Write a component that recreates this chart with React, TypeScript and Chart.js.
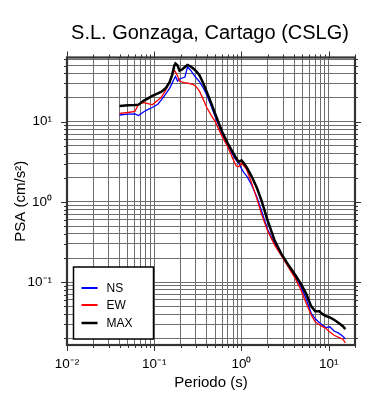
import { useEffect, useRef } from 'react';
import { Chart, registerables } from 'chart.js';

Chart.register(...registerables);

const TITLE = 'S.L. Gonzaga, Cartago (CSLG)';
const X_TITLE = 'Periodo (s)';
const Y_TITLE = 'PSA (cm/s²)';

const PERIODS = [
  0.04, 0.05, 0.06, 0.066, 0.076, 0.085, 0.095, 0.11, 0.12, 0.135,
  0.15, 0.16, 0.17, 0.175, 0.185, 0.195, 0.21, 0.225, 0.24, 0.26,
  0.28, 0.3, 0.33, 0.36, 0.4, 0.45, 0.5, 0.6, 0.7, 0.8,
  0.87, 0.93, 1.0, 1.07, 1.15, 1.3, 1.5, 1.7, 2.0, 2.4,
  2.9, 3.5, 4.1, 4.8, 5.5, 6.3, 7.0, 7.8, 8.5, 9.3,
  10.3, 11.5, 13, 14.5, 15.5,
];

const NS = [
  12.1, 12.4, 12.5, 11.9, 13.3, 14.2, 15, 16.5, 18.5, 22,
  26, 30, 34.5, 36.5, 32, 34, 35, 36, 48, 44,
  39, 35.5, 31.5, 27, 21.5, 15.5, 11.5, 7, 5.1, 3.8,
  3.3, 3.05, 2.6, 2.3, 2.1, 1.65, 1.15, 0.77, 0.45, 0.3,
  0.215, 0.155, 0.118, 0.088, 0.062, 0.041, 0.035, 0.0315, 0.029, 0.0272,
  0.0278, 0.0246, 0.0232, 0.0212, 0.0196,
];

const EW = [
  12.7, 13.0, 13.4, 16.5, 17.3, 16.8, 16.2, 18.5, 20, 24.5,
  31, 37, 43, 42, 37, 32, 31, 30.5, 30.5, 29.5,
  29, 27.5, 24, 19.5, 15, 12, 10, 6.5, 4.8, 3.4,
  2.8, 2.75, 3.05, 2.8, 2.5, 1.75, 1.1, 0.7, 0.43, 0.29,
  0.21, 0.15, 0.113, 0.08, 0.055, 0.039, 0.032, 0.0295, 0.028, 0.0265,
  0.024, 0.0218, 0.0205, 0.0195, 0.0175,
];

const MAX = [
  15.7, 16.0, 16.1, 16.3, 18.3, 19.5, 21, 22.5, 23.5, 26,
  31, 38, 50, 53, 50, 43, 45, 48, 51, 49,
  46, 43, 38, 31, 23.5, 17, 12.5, 7.5, 5.3, 4.1,
  3.5, 3.15, 3.3, 3.0, 2.7, 2.1, 1.5, 1.03, 0.58, 0.33,
  0.22, 0.16, 0.125, 0.095, 0.072, 0.05, 0.0435, 0.0435, 0.04, 0.0378,
  0.0365, 0.034, 0.031, 0.0283, 0.026,
];

const SERIES_LABELS = ['NS', 'EW', 'MAX'];
const SERIES_COLORS = ['#0000ff', '#ff0000', '#000000'];

const X_DECADES = [0.01, 0.1, 1, 10];
const X_TICK_LABELS = ['10⁻²', '10⁻¹', '10⁰', '10¹'];
const Y_DECADES = [0.01, 0.1, 1, 10];
const Y_TICK_LABELS = ['10⁻²', '10⁻¹', '10⁰', '10¹'];

const X_MIN = 0.01;
const X_MAX = 20;
const Y_MIN = 0.0165;
const Y_MAX = 63;

const FONT = '"Liberation Sans", Arial, Helvetica, sans-serif';

function logTicks(decades: number[], min: number, max: number) {
  const out: number[] = [];
  decades.forEach((d) => {
    for (let m = 1; m <= 9; m++) {
      const v = parseFloat((d * m).toPrecision(6));
      if (v >= min * 0.9999 && v <= max * 1.0001) out.push(v);
    }
  });
  return out;
}

function labelFor(value: number, decades: number[], labels: string[]) {
  for (let i = 0; i < decades.length; i++) {
    if (Math.abs(value / decades[i] - 1) < 1e-6) return labels[i];
  }
  return '';
}

function isDecade(v: number) {
  const l = Math.log10(v);
  return Math.abs(l - Math.round(l)) < 1e-6;
}

const decorPlugin = {
  id: 'decor',
  beforeDraw(chart: any) {
    const { ctx, width, height } = chart;
    ctx.save();
    ctx.fillStyle = '#ffffff';
    ctx.fillRect(0, 0, width, height);
    ctx.restore();
  },
  afterDraw(chart: any) {
    const { ctx, chartArea: a, scales } = chart;
    const xs = scales.x;
    const ys = scales.y;
    ctx.save();

    // outward tick marks on all four sides
    ctx.strokeStyle = '#333333';
    ctx.lineWidth = 1;
    ctx.beginPath();
    xs.ticks.forEach((t: any) => {
      const px = Math.round(xs.getPixelForValue(t.value)) + 0.5;
      const len = isDecade(t.value) ? 6 : 3;
      ctx.moveTo(px, a.bottom);
      ctx.lineTo(px, a.bottom + len);
      ctx.moveTo(px, a.top);
      ctx.lineTo(px, a.top - len);
    });
    ys.ticks.forEach((t: any) => {
      const py = Math.round(ys.getPixelForValue(t.value)) + 0.5;
      const len = isDecade(t.value) ? 6 : 3;
      ctx.moveTo(a.left, py);
      ctx.lineTo(a.left - len, py);
      ctx.moveTo(a.right, py);
      ctx.lineTo(a.right + len, py);
    });
    ctx.stroke();

    // frame
    ctx.strokeStyle = '#333333';
    ctx.lineWidth = 2.2;
    ctx.strokeRect(a.left, a.top, a.right - a.left, a.bottom - a.top);

    // legend box
    const bx = a.left + 6.5;
    const bw = 80;
    const bh = 72;
    const by = a.bottom - 6 - bh;
    ctx.fillStyle = '#ffffff';
    ctx.fillRect(bx, by, bw, bh);
    ctx.strokeStyle = '#000000';
    ctx.lineWidth = 1.5;
    ctx.strokeRect(bx, by, bw, bh);
    const rows = [by + 21, by + 38, by + 56];
    ctx.font = `12px ${FONT}`;
    ctx.textBaseline = 'middle';
    ctx.textAlign = 'left';
    chart.data.datasets.forEach((ds: any, i: number) => {
      const y = rows[i];
      ctx.strokeStyle = ds.borderColor;
      ctx.lineWidth = i === 2 ? 2.5 : 2;
      ctx.beginPath();
      ctx.moveTo(bx + 8, y);
      ctx.lineTo(bx + 24, y);
      ctx.stroke();
      ctx.fillStyle = '#000000';
      ctx.fillText(ds.label, bx + 33, y + 0.5);
    });

    // titles
    const cx = (a.left + a.right) / 2;
    ctx.fillStyle = '#000000';
    ctx.textAlign = 'center';
    ctx.textBaseline = 'alphabetic';
    ctx.font = `20px ${FONT}`;
    ctx.fillText(TITLE, cx - 1, 38.5);
    ctx.font = `15px ${FONT}`;
    ctx.fillText(X_TITLE, cx, 387);
    ctx.save();
    ctx.translate(25, (a.top + a.bottom) / 2);
    ctx.rotate(-Math.PI / 2);
    ctx.fillText(Y_TITLE, 0, 0);
    ctx.restore();

    ctx.restore();
  },
};

export default function App() {
  const ref = useRef<HTMLCanvasElement | null>(null);

  useEffect(() => {
    document.body.style.margin = '0';
    const canvas = ref.current;
    if (!canvas) return;
    const xTicks = logTicks(X_DECADES, X_MIN, X_MAX);
    const yTicks = logTicks(Y_DECADES, Y_MIN, Y_MAX);
    const series = [NS, EW, MAX];
    const chart = new Chart(canvas, {
      type: 'line',
      data: {
        datasets: series.map((vals, i) => ({
          label: SERIES_LABELS[i],
          data: PERIODS.map((p, j) => ({ x: p, y: vals[j] })),
          borderColor: SERIES_COLORS[i],
          backgroundColor: SERIES_COLORS[i],
          borderWidth: i === 2 ? 2.5 : 1.3,
          pointRadius: 0,
          tension: 0,
          fill: false,
          order: i === 2 ? 0 : i === 1 ? 1 : 2,
        })),
      },
      options: {
        animation: false,
        responsive: false,
        maintainAspectRatio: false,
        events: [],
        layout: { padding: { top: 57.5, right: 35, bottom: 0, left: 0 } },
        plugins: {
          legend: { display: false },
          title: { display: false },
          tooltip: { enabled: false },
        },
        scales: {
          x: {
            type: 'logarithmic',
            min: X_MIN,
            max: X_MAX,
            afterBuildTicks: (scale: any) => {
              scale.ticks = xTicks.map((v) => ({ value: v }));
            },
            afterFit: (scale: any) => {
              scale.height = 55;
            },
            grid: { color: '#6e6e6e', lineWidth: 1, drawTicks: false },
            border: { display: false },
            ticks: {
              autoSkip: false,
              maxRotation: 0,
              minRotation: 0,
              padding: 11,
              color: '#000000',
              font: { family: FONT, size: 13.5 },
              callback: (value: any) => labelFor(Number(value), X_DECADES, X_TICK_LABELS),
            },
          },
          y: {
            type: 'logarithmic',
            min: Y_MIN,
            max: Y_MAX,
            afterBuildTicks: (scale: any) => {
              scale.ticks = yTicks.map((v) => ({ value: v }));
            },
            afterFit: (scale: any) => {
              scale.width = 67;
            },
            grid: { color: '#6e6e6e', lineWidth: 1, drawTicks: false },
            border: { display: false },
            ticks: {
              autoSkip: false,
              padding: 15,
              color: '#000000',
              font: { family: FONT, size: 13.5 },
              callback: (value: any) => labelFor(Number(value), Y_DECADES, Y_TICK_LABELS),
            },
          },
        },
      },
      plugins: [decorPlugin],
    } as any);
    return () => chart.destroy();
  }, []);

  return (
    <div style={{ width: 390, height: 400 }}>
      <canvas ref={ref} width={390} height={400} style={{ display: 'block' }} />
    </div>
  );
}
